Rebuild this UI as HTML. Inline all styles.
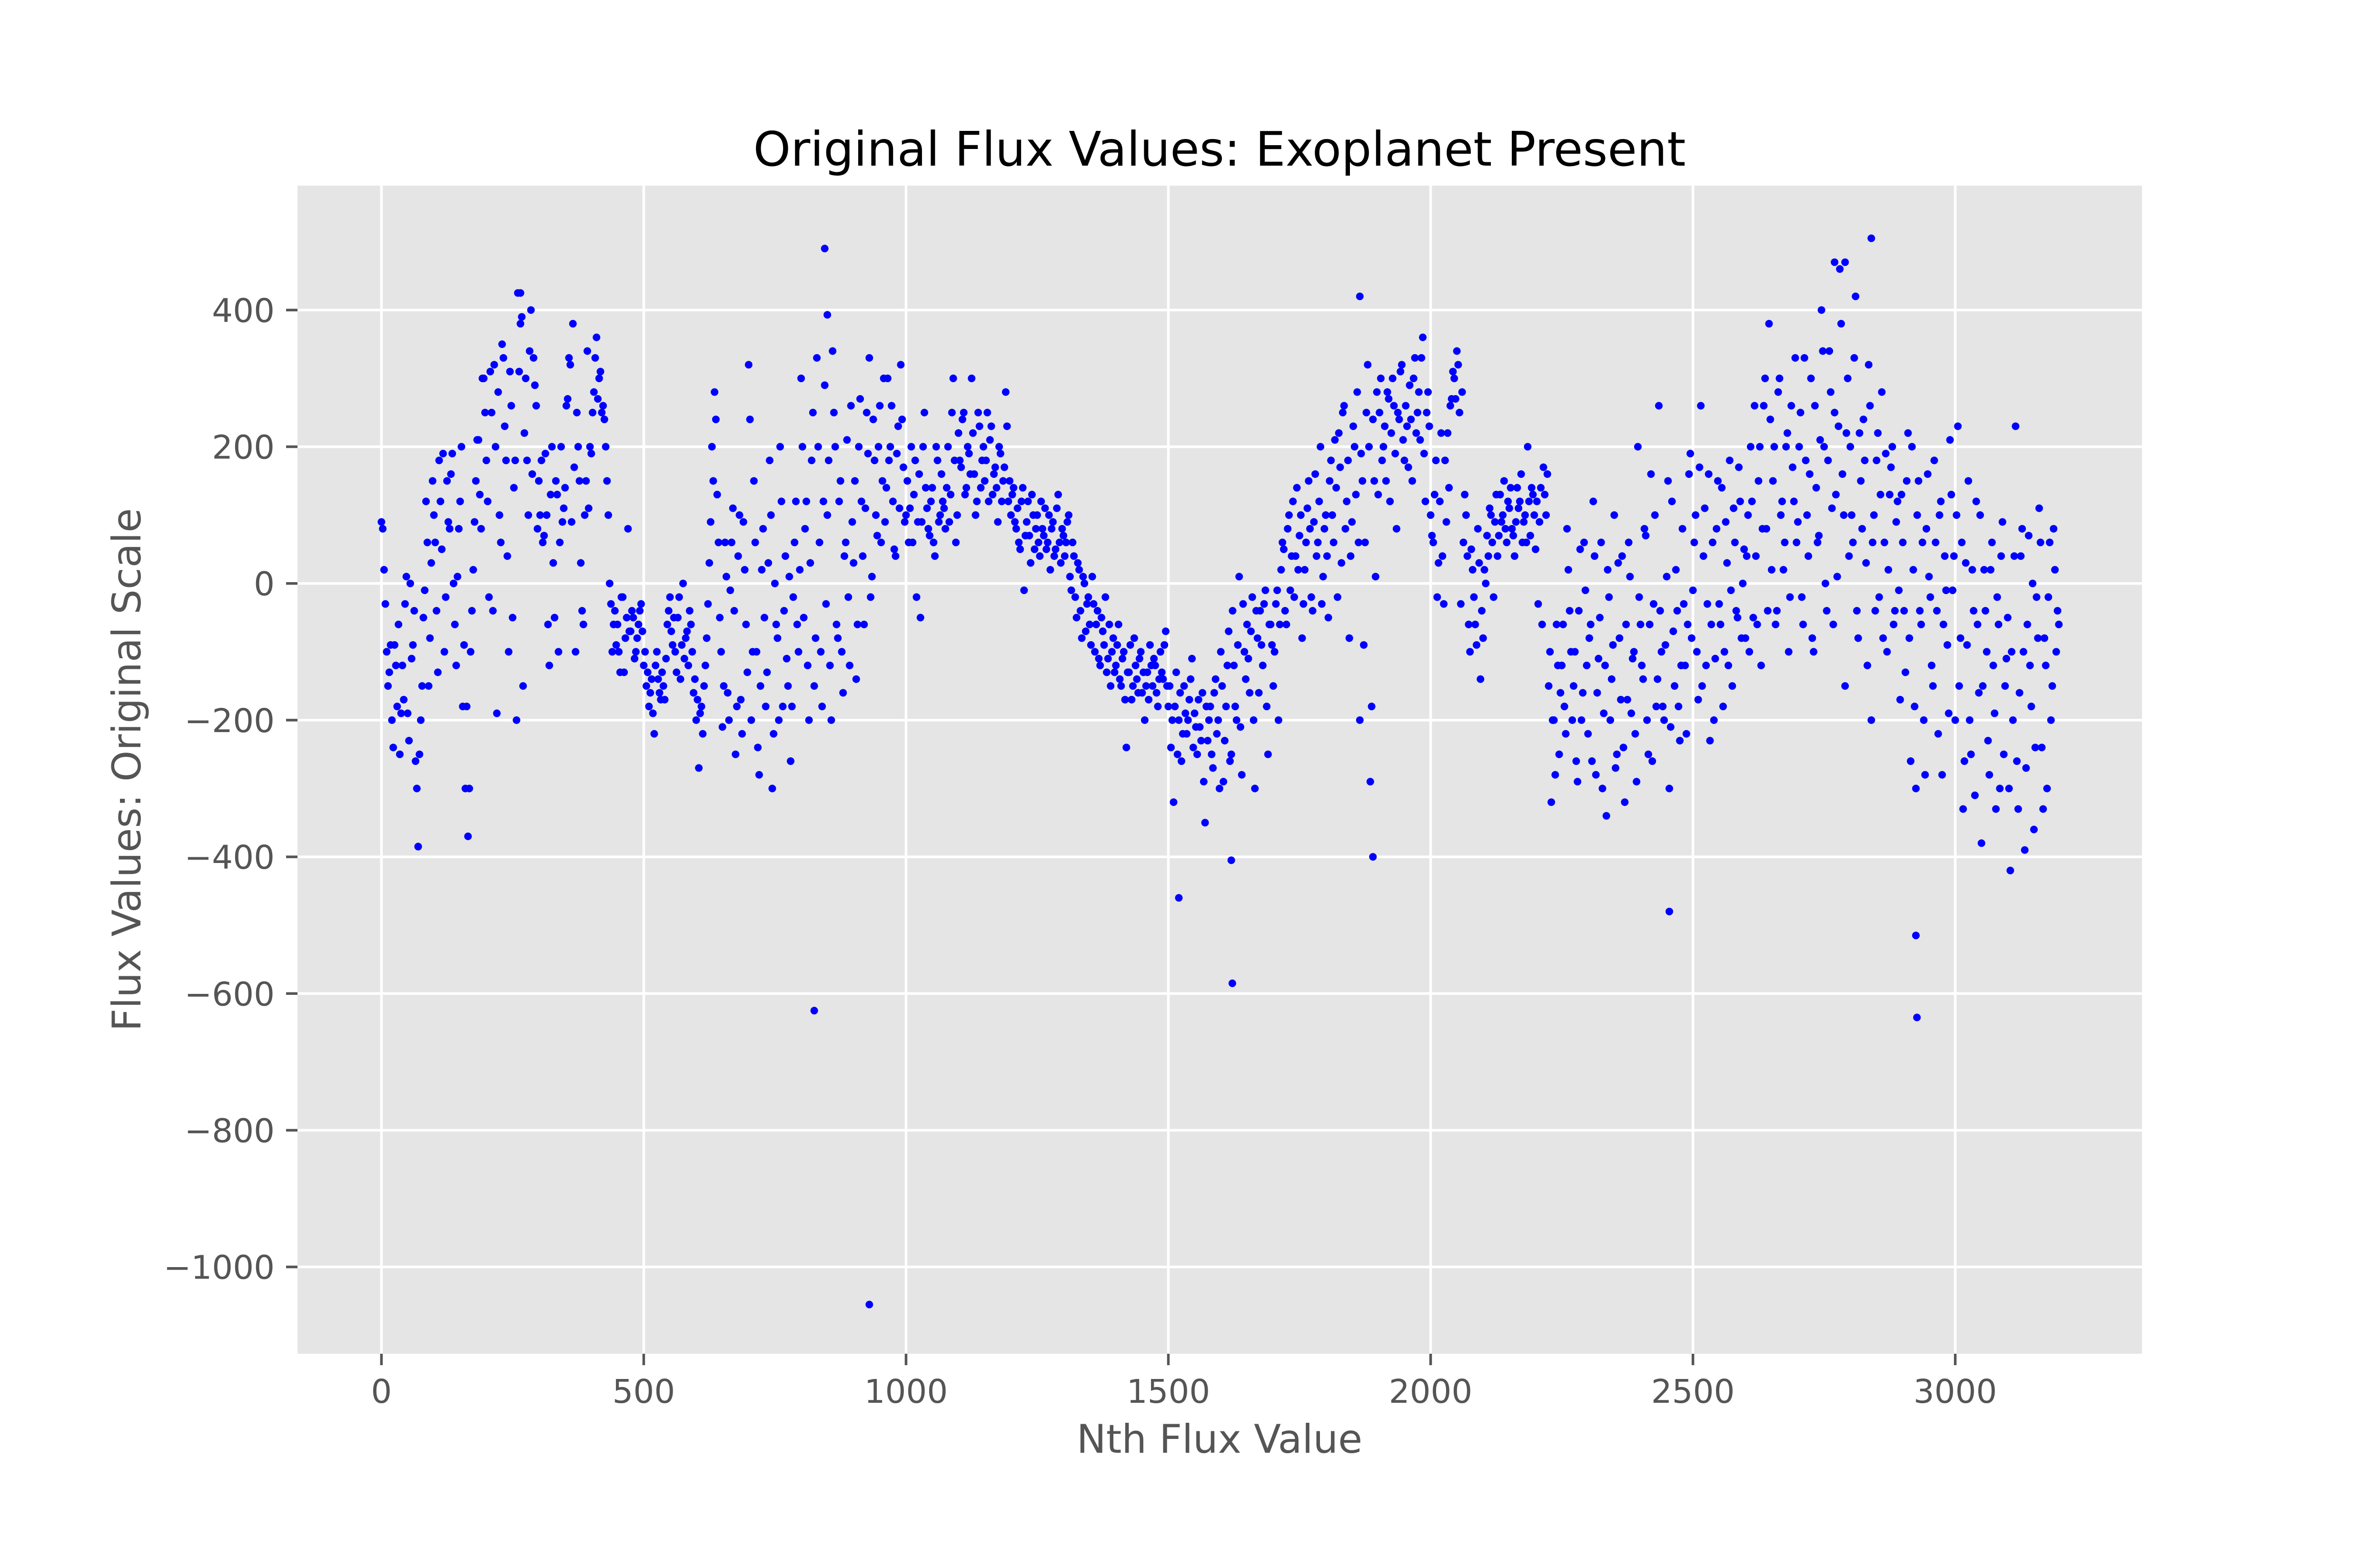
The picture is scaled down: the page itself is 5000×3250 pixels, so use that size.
<!DOCTYPE html>
<html><head><meta charset="utf-8"><style>
html,body{margin:0;padding:0;background:#fff}
svg{display:block}
text{font-family:"DejaVu Sans","Liberation Sans",sans-serif}
</style></head><body>
<svg id="chart" xmlns="http://www.w3.org/2000/svg" width="5000" height="3250" viewBox="0 0 5000 3250">
<rect x="0" y="0" width="5000" height="3250" fill="#ffffff"/>
<rect x="625" y="390" width="3875" height="2454" fill="#E5E5E5"/>
<g id="grid"></g>
<g id="ticks"></g>
<g id="points"></g>
<text x="2562" y="348" text-anchor="middle" font-size="100" fill="#000">Original Flux Values: Exoplanet Present</text>
<text x="2562" y="3052" text-anchor="middle" font-size="83" fill="#555555">Nth Flux Value</text>
<text x="0" y="0" transform="translate(295,1617) rotate(-90)" text-anchor="middle" font-size="83" fill="#555555">Flux Values: Original Scale</text>
</svg>
<script>
const xTicks = [0, 500, 1000, 1500, 2000, 2500, 3000];
const yTicks = [-1000, -800, -600, -400, -200, 0, 200, 400];
const yTickLabels = ["\u22121000", "\u2212800", "\u2212600", "\u2212400", "\u2212200", "0", "200", "400"];
const xStep = 5;
const fluxValues = [
90,20,-100,-130,-200,-90,-180,-250,-120,-30,-190,0,-90,-260,-385,-200,-50,120,-150,30,
100,-40,180,50,-100,150,80,190,-60,10,120,-180,-300,-370,-100,20,150,210,80,300,
180,-20,250,320,-190,100,350,230,40,310,-50,180,425,380,-150,300,100,400,330,260,
150,180,70,100,-120,200,-50,130,60,90,140,270,320,380,-100,200,30,-60,150,110,
190,280,360,300,250,240,150,0,-100,-40,-60,-130,-20,-80,80,-70,-50,-100,-60,-30,
-120,-150,-180,-140,-220,-100,-160,-130,-170,-60,-20,-90,-100,-50,-140,0,-80,-120,-60,-160,
-200,-270,-180,-150,-80,30,200,280,130,-50,-210,60,-160,-10,110,-250,40,-170,90,-60,
320,-200,150,-100,-280,20,-50,-130,180,-300,0,-80,200,-180,40,-150,-260,-20,120,-100,
300,-50,120,-200,180,-150,330,60,-180,290,100,-120,340,200,-80,150,-160,60,-20,260,
30,-140,200,120,-60,250,330,10,180,70,260,150,90,300,200,120,40,230,320,170,
100,60,200,130,-20,160,90,250,110,70,140,40,180,100,120,80,200,130,300,60,
220,170,250,140,190,300,160,120,230,180,150,250,210,130,170,90,190,150,280,120,
100,140,80,60,120,-10,90,70,130,50,100,40,80,110,60,20,90,50,130,30,
70,60,100,-10,40,-50,20,-80,0,-30,-60,10,-100,-40,-120,-70,-20,-110,-150,-80,
-120,-60,-150,-100,-240,-130,-170,-80,-140,-110,-160,-200,-130,-90,-150,-120,-180,-100,-140,-70,
-180,-240,-320,-130,-200,-260,-150,-220,-170,-110,-190,-250,-210,-160,-350,-230,-180,-270,-140,-200,
-100,-290,-180,-70,-250,-120,-200,10,-280,-100,-60,-160,-20,-300,-80,-40,-120,-10,-250,-60,
-150,-30,-200,20,50,-60,100,40,-20,140,70,-80,20,110,80,-40,160,60,200,10,
100,-50,180,60,140,220,30,260,120,-80,90,200,280,-200,150,60,320,-290,240,10,
130,300,200,150,270,220,260,80,240,320,180,230,290,150,330,250,210,360,120,280,
100,60,180,30,220,-30,90,140,270,300,340,250,280,130,40,-100,20,-60,80,-140,
-80,0,40,100,-20,130,70,90,150,60,110,80,40,140,120,60,100,200,70,130,
50,-30,140,170,100,-150,-320,-200,-60,-250,-120,-180,80,-40,-200,-100,-290,50,-160,-10,
-220,-60,120,-280,-110,60,-190,-340,-20,-140,100,-250,-80,40,-320,-170,10,-110,-220,200,
-60,-140,70,-250,160,-30,-180,260,-100,-200,10,-300,120,-150,-40,-230,80,-120,-60,190,
-10,100,-170,260,40,-120,160,-60,-200,80,-30,140,-100,30,180,-150,60,-50,120,0,
-80,100,200,-50,40,150,-120,260,80,380,20,200,-40,300,120,60,220,-20,170,330,
90,250,-60,180,40,300,-100,140,70,400,200,-40,340,110,250,10,460,160,-150,300,
200,60,420,-80,150,240,30,320,-200,100,180,-20,280,60,-100,130,200,-40,120,-170,
60,-130,220,-260,20,-300,150,-60,-200,80,10,-120,180,-40,100,-280,40,-90,210,-10,
-200,230,-80,-330,30,150,-250,-40,120,-160,-380,20,-100,-280,60,-190,-20,-300,90,-150,
-50,-420,-200,230,-330,40,-100,-270,70,-180,-360,-20,110,-240,-80,-300,60,-150,20,-40
];
const fluxValuesB = [
80,-30,-150,-90,-240,-120,-60,-190,-170,10,-230,-110,-40,-300,-250,-150,-10,60,-80,150,
60,-130,120,190,-20,90,160,0,-120,80,200,-90,-180,-300,-40,90,210,130,300,250,
120,310,-40,200,280,60,330,180,-100,260,140,-200,310,390,220,180,340,160,290,80,
100,60,190,-60,130,30,150,-100,200,110,260,330,90,170,250,150,-40,100,340,200,
250,330,270,310,260,200,100,-30,-60,-90,-100,-20,-130,-50,-70,-40,-110,-80,-40,-70,
-100,-130,-160,-190,-120,-140,-170,-150,-110,-40,-70,-50,-130,-20,-90,-110,-70,-40,-100,-140,
-170,-190,-220,-120,-30,90,150,240,60,-100,-150,10,-200,60,-40,-180,100,-220,20,-130,
240,-100,60,-240,-150,80,-180,30,100,-220,-60,-200,120,-40,-110,10,-180,60,-60,20,
200,80,-120,30,250,-80,200,-100,120,-30,180,-200,250,-60,120,-100,40,210,-120,90,
150,-60,270,40,110,190,-20,240,100,200,60,300,140,180,260,50,190,110,240,90,
150,110,60,180,90,-50,200,140,80,120,60,200,90,160,110,140,90,250,180,100,
180,240,130,200,160,220,100,250,140,200,180,120,230,160,140,200,120,170,230,150,
130,90,110,50,140,70,120,30,100,80,60,120,70,50,100,80,40,110,60,80,
40,90,10,60,-20,30,-40,10,-70,-20,-90,-30,-60,-110,-50,-90,-130,-60,-100,-130,
-90,-140,-110,-170,-130,-90,-150,-120,-160,-100,-130,-150,-170,-120,-110,-160,-140,-130,-90,-150,
-150,-200,-180,-250,-160,-220,-190,-200,-140,-240,-210,-170,-230,-290,-180,-200,-250,-160,-220,-300,
-150,-230,-120,-260,-40,-180,-90,-210,-30,-140,-110,-70,-200,-40,-160,-90,-30,-180,-60,-90,
-100,-10,-60,60,-40,80,-10,120,40,20,100,-30,60,150,-20,90,40,120,-30,80,
40,150,100,210,-20,170,250,80,180,40,230,130,60,190,-90,250,200,-180,150,280,
250,180,230,280,120,300,190,250,310,210,260,170,240,300,220,280,330,190,250,230,
70,130,-20,120,40,180,220,260,310,270,320,-30,60,100,-60,50,-20,-90,30,-40,
20,70,110,60,90,40,130,100,80,120,140,70,90,110,160,90,60,120,140,100,
120,90,-60,130,160,-100,-200,-280,-120,-160,-60,-220,20,-100,-150,-260,-40,-200,60,-120,
-80,-260,40,-160,-50,-300,-120,20,-200,-90,-270,30,-170,-240,-60,60,-190,-100,-290,-20,
-120,80,-200,-60,-260,100,-140,-40,-180,-90,150,-210,-70,20,-180,-120,-30,-220,160,-80,
60,-100,170,-150,110,-30,-230,60,-110,150,-60,-180,90,-120,-10,110,-40,170,-80,50,
40,-100,120,260,-60,200,80,300,-40,240,150,-60,280,100,20,200,-100,260,120,60,
200,-20,330,100,160,-80,260,60,210,340,0,180,280,-60,130,230,380,100,220,40,
100,330,-40,220,80,180,-120,260,60,-40,220,130,-80,190,20,170,-60,90,-10,130,
-40,150,-80,200,-180,100,-40,60,-280,160,-20,-150,60,-220,120,-60,-10,-190,130,40,
100,-150,60,-260,-90,-200,20,-310,-60,100,-150,-40,-230,20,-120,-330,-60,40,-250,-110,
-300,-100,40,-260,-160,80,-390,-60,-120,0,-240,-80,60,-330,-120,-20,-200,80,-100,-60
];
const outlierX = [825, 845, 850, 930, 1520, 1622, 1620, 1865, 1890, 2455, 2925, 2927, 2840, 2770, 2790, 265, 70];
const outlierY = [-625, 490, 393, -1055, -460, -585, -405, 420, -400, -480, -515, -635, 505, 470, 470, 425, -385];

const X0 = 625, X1 = 4500, Y0 = 390, Y1 = 2844;
const xMin = -160, xMax = 3356, yMin = -1127, yMax = 582;
function sx(v){ return X0 + (v - xMin) / (xMax - xMin) * (X1 - X0); }
function sy(v){ return Y1 - (v - yMin) / (yMax - yMin) * (Y1 - Y0); }
const NS = "http://www.w3.org/2000/svg";
const grid = document.getElementById('grid');
const ticks = document.getElementById('ticks');
const pts = document.getElementById('points');
function mk(tag, attrs, parent){ const e = document.createElementNS(NS, tag); for (const k in attrs) e.setAttribute(k, attrs[k]); parent.appendChild(e); return e; }

xTicks.forEach(function(t){
  const x = sx(t);
  const g = mk('line', {x1:x, x2:x, y1:Y0, y2:Y1, stroke:'#ffffff', 'stroke-width':5.5}, grid);
  
  
  const tk = mk('line', {x1:x, x2:x, y1:Y1, y2:Y1+24, stroke:'#555555', 'stroke-width':5.5}, ticks);
  
  
  const lb = mk('text', {x:x, y:2947, 'text-anchor':'middle', 'font-size':69, fill:'#555555'}, ticks);
  lb.textContent = String(t);
  
  
});
yTicks.forEach(function(t, i){
  const y = sy(t);
  const g = mk('line', {x1:X0, x2:X1, y1:y, y2:y, stroke:'#ffffff', 'stroke-width':5.5}, grid);
  
  
  const tk = mk('line', {x1:X0-24, x2:X0, y1:y, y2:y, stroke:'#555555', 'stroke-width':5.5}, ticks);
  
  
  const lb = mk('text', {x:X0-48, y:y+25, 'text-anchor':'end', 'font-size':69, fill:'#555555'}, ticks);
  lb.textContent = yTickLabels[i];
  
  
});
fluxValues.forEach(function(v, i){
  const c = mk('circle', {cx:sx(i*xStep), cy:sy(v), r:8, fill:'#0000ff'}, pts);
  
  
});
fluxValuesB.forEach(function(v, i){
  const c = mk('circle', {cx:sx(i*xStep + 2.5), cy:sy(v), r:8, fill:'#0000ff'}, pts);
  
  
});
outlierX.forEach(function(xv, i){
  const c = mk('circle', {cx:sx(xv), cy:sy(outlierY[i]), r:8, fill:'#0000ff'}, pts);
  
  
});
</script>
</body></html>
